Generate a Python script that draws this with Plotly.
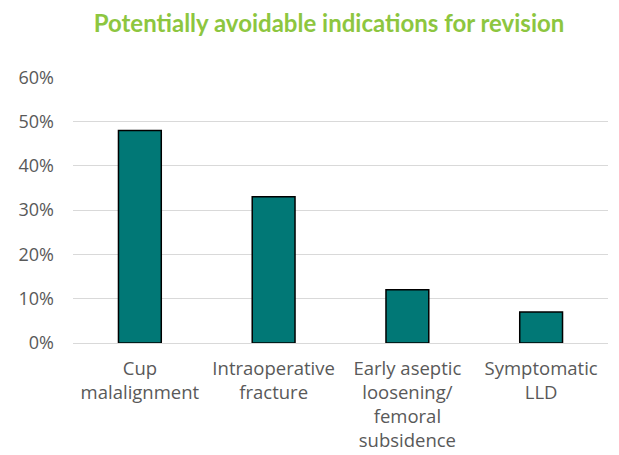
import plotly.graph_objects as go

categories = ["Cup<br>malalignment", "Intraoperative<br>fracture", "Early aseptic<br>loosening/<br>femoral<br>subsidence", "Symptomatic<br>LLD"]
values = [0.48, 0.33, 0.12, 0.07]
tick_vals = [0, 0.1, 0.2, 0.3, 0.4, 0.5, 0.6]
tick_text = ["0%", "10%", "20%", "30%", "40%", "50%", "60%"]

# the page body has an 8px offset, so the figure is sized to fit the window
W, H = 611, 447
fig = go.Figure(go.Bar(
    x=categories, y=values,
    marker=dict(color="#017876", line=dict(color="#000000", width=1.5)),
    width=0.32,
))

fig.update_layout(
    width=W, height=H,
    paper_bgcolor="white", plot_bgcolor="white",
    margin=dict(l=65, r=11, t=69, b=112),
    title=dict(text="<b>Potentially avoidable indications for revision</b>",
               x=321 / W, xanchor="center", y=1 - 16 / H, yanchor="middle",
               font=dict(family="Lato", size=24, color="#8DC63F")),
    showlegend=False,
    font=dict(family="Open Sans", size=18, color="#595959"),
)
fig.update_yaxes(range=[0, 0.6005], tickvals=tick_vals, ticktext=tick_text,
                 showgrid=True, gridcolor="#D9D9D9", gridwidth=1,
                 zeroline=False, showline=False, ticks="", ticklen=0,
                 ticklabelstandoff=18,
                 tickfont=dict(size=18, color="#595959"), automargin=False)
fig.update_xaxes(showline=True, linecolor="#D9D9D9", linewidth=1, ticks="",
                 ticklabelstandoff=9,
                 tickfont=dict(size=18.5, color="#595959"), automargin=False)

fig.write_html("out.html")
